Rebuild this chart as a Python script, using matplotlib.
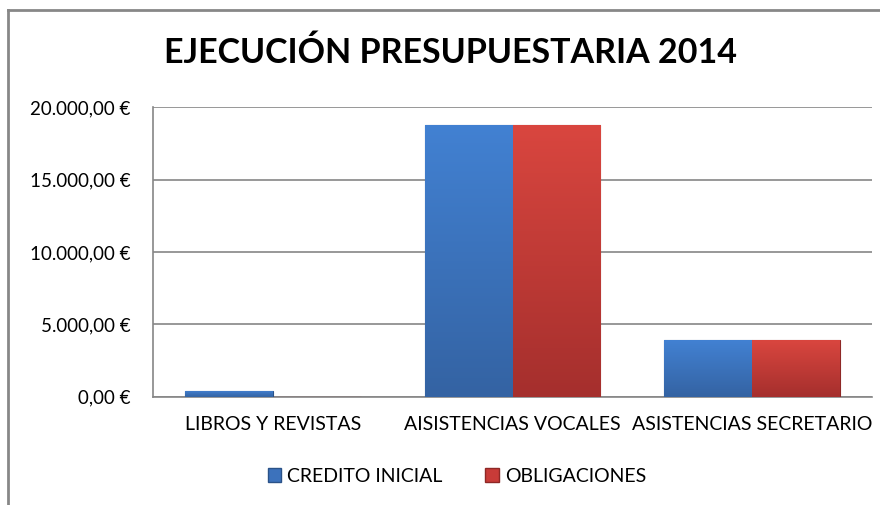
import numpy as np
import matplotlib.pyplot as plt
from matplotlib.colors import LinearSegmentedColormap
from matplotlib.lines import Line2D
from matplotlib.patches import Patch
from matplotlib.ticker import FuncFormatter

# datos del gráfico
categorias = ['LIBROS Y REVISTAS', 'AISISTENCIAS VOCALES', 'ASISTENCIAS SECRETARIO']
credito_inicial = [420, 18800, 3900]
obligaciones = [0, 18800, 3900]
series = ['CREDITO INICIAL', 'OBLIGACIONES']

plt.rcParams['font.family'] = ['Lato', 'DejaVu Sans']


def euros(v, pos):
    s = f'{v:,.2f}'.replace(',', 'X').replace('.', ',').replace('X', '.')
    return s + ' €'


fig = plt.figure(figsize=(8.8, 5.05), dpi=100)
ax = fig.add_axes([153 / 880, 1 - 396.7 / 505, 719 / 880, 289.4 / 505])

x = np.arange(len(categorias))
w = 0.367
b1 = ax.bar(x - w / 2, credito_inicial, w, color='#3C72BC', edgecolor='#2A5288', linewidth=0.8, zorder=3)
b2 = ax.bar(x + w / 2, obligaciones, w, color='#C83B38', edgecolor='#8E2826', linewidth=0.8, zorder=3)

# degradado vertical dentro de cada barra
cm_azul = LinearSegmentedColormap.from_list('az', ['#3463A3', '#4281D2'])
cm_rojo = LinearSegmentedColormap.from_list('ro', ['#A52F2D', '#D9463F'])
grad = np.linspace(0, 1, 100).reshape(-1, 1)
for barras, cm in ((b1, cm_azul), (b2, cm_rojo)):
    for p in barras:
        h = p.get_height()
        if h <= 0:
            continue
        im = ax.imshow(grad, extent=[p.get_x(), p.get_x() + p.get_width(), 0, h],
                       origin='lower', aspect='auto', cmap=cm, zorder=3.5)
        im.set_clip_path(p)

ax.set_xlim(-0.5, 2.5)
ax.set_ylim(0, 20000)
ax.set_yticks(np.arange(0, 20001, 5000))
ax.yaxis.set_major_formatter(FuncFormatter(euros))
ax.set_xticks(x)
ax.set_xticklabels(categorias)
ax.tick_params(axis='y', length=0, pad=16, labelsize=13.5, colors='#000000')
ax.tick_params(axis='x', length=0, pad=14, labelsize=14)
ax.grid(axis='y', color='#868686', linewidth=1.2, zorder=0)
for s in ('top', 'right'):
    ax.spines[s].set_visible(False)
for s in ('left', 'bottom'):
    ax.spines[s].set_color('#868686')
    ax.spines[s].set_linewidth(1.2)

fig.text(451 / 880, 1 - 53 / 505, 'EJECUCIÓN PRESUPUESTARIA 2014', ha='center', va='center',
         fontsize=24.5, fontweight='bold')

handles = [Patch(facecolor='#3C72BC', edgecolor='#2A5288'),
           Patch(facecolor='#C83B38', edgecolor='#8E2826')]
fig.legend(handles, series, loc='center', bbox_to_anchor=(457 / 880, 1 - 476 / 505), ncol=2,
           frameon=False, fontsize=14, handlelength=0.7, handleheight=0.7,
           handletextpad=0.3, columnspacing=2.2)

# marco del gráfico
fig.add_artist(Line2D([8 / 880, 8 / 880], [0, 1 - 10 / 505], color='#878787', linewidth=2))
fig.add_artist(Line2D([8 / 880, 1], [1 - 10 / 505, 1 - 10 / 505], color='#878787', linewidth=2))

fig.savefig('out.png', dpi=100)
